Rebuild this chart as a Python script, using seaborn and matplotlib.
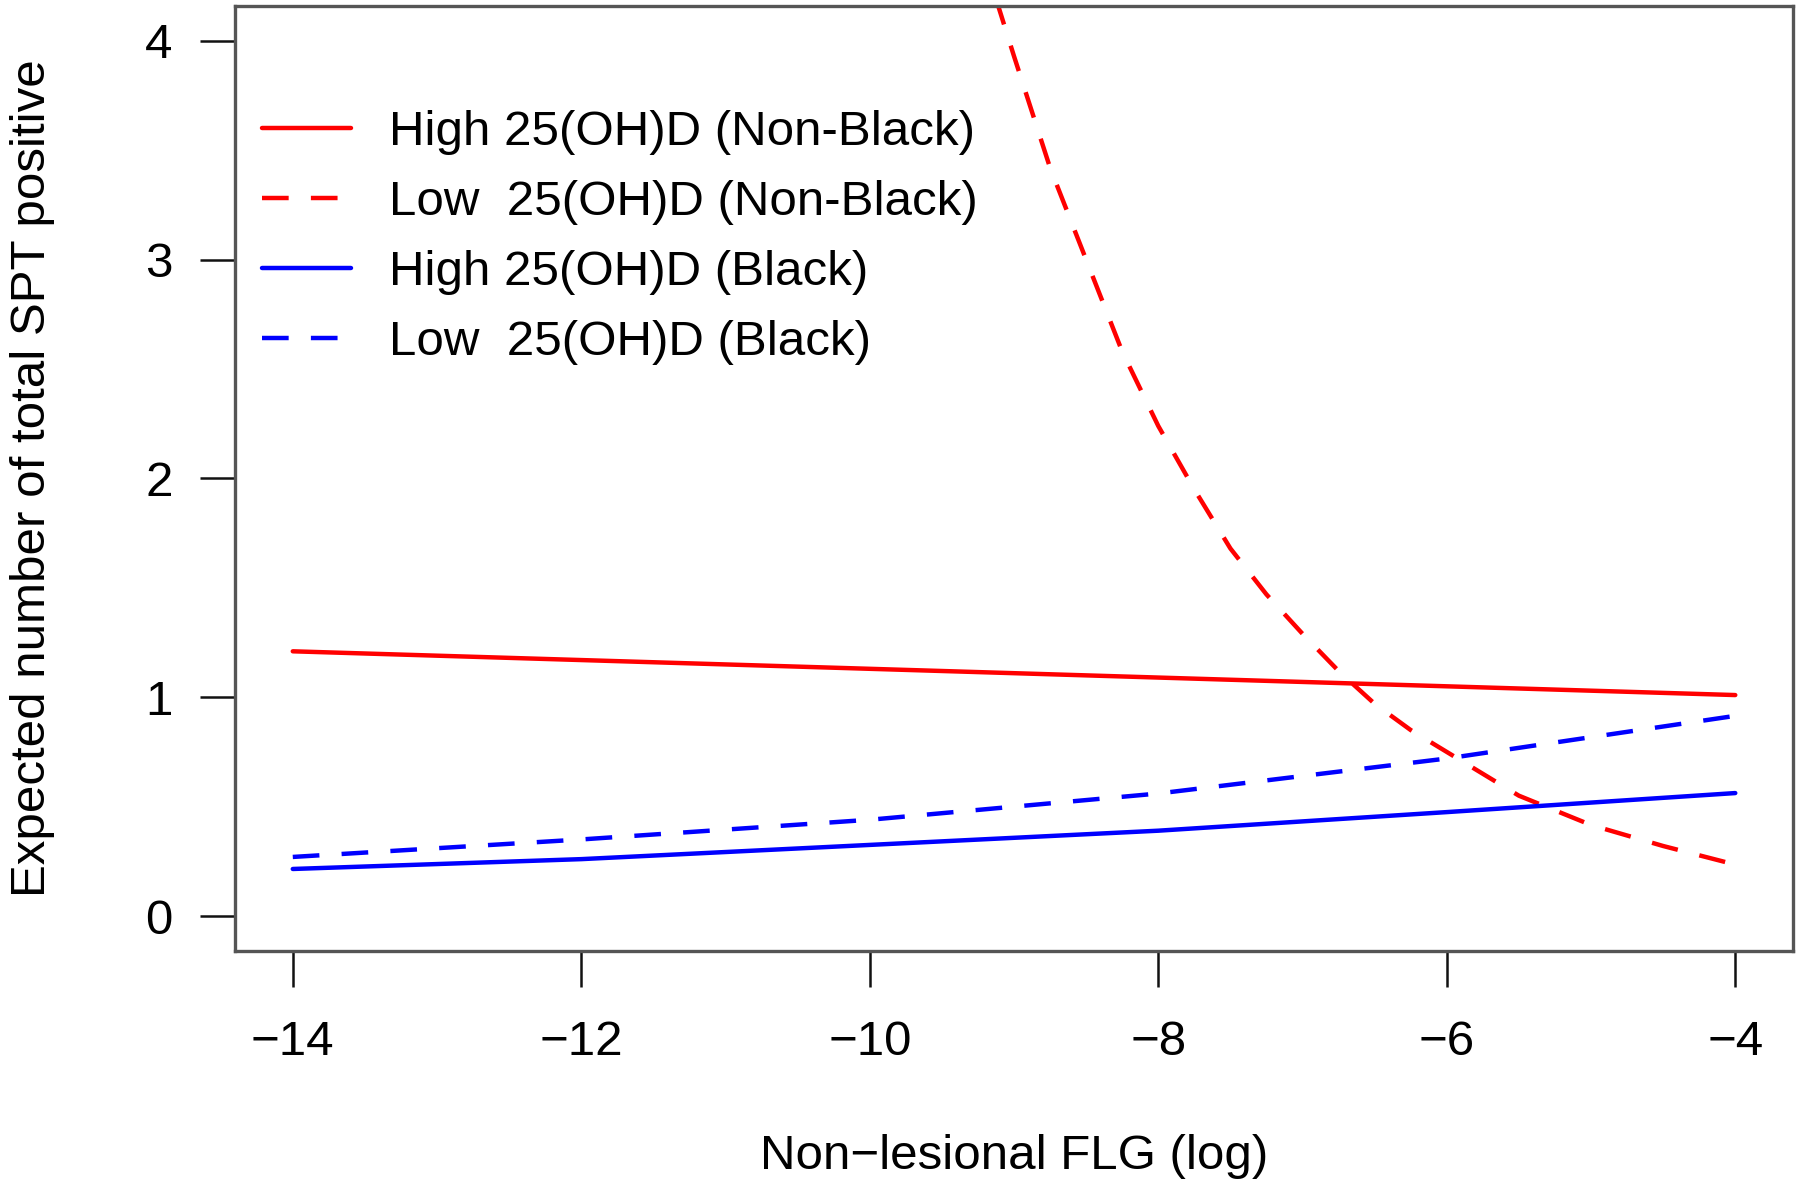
import numpy as np
import pandas as pd
import matplotlib
matplotlib.use("Agg")
import matplotlib.pyplot as plt
import seaborn as sns

# ---- data ----
series_names = [
    "High 25(OH)D (Non-Black)",
    "Low  25(OH)D (Non-Black)",
    "High 25(OH)D (Black)",
    "Low  25(OH)D (Black)",
]

x_high_nonblack = [-14, -12, -10, -8, -6, -4]
y_high_nonblack = [1.21, 1.17, 1.13, 1.09, 1.05, 1.01]

x_low_nonblack = [-9.4, -9.2, -9.0, -8.75, -8.5, -8.25, -8.0, -7.75, -7.5, -7.25,
                  -7.0, -6.75, -6.5, -6.25, -6.0, -5.5, -5.0, -4.5, -4.0]
y_low_nonblack = [4.80, 4.35, 3.93, 3.42, 3.00, 2.58, 2.24, 1.95, 1.68, 1.47,
                  1.29, 1.12, 0.97, 0.85, 0.75, 0.55, 0.416, 0.32, 0.235]

x_high_black = [-14, -12, -10, -8, -6, -4]
y_high_black = [0.215, 0.26, 0.325, 0.39, 0.475, 0.562]

x_low_black = [-14, -12, -10, -8, -6, -4]
y_low_black = [0.27, 0.35, 0.44, 0.56, 0.72, 0.915]

x_ticks = [-14, -12, -10, -8, -6, -4]
y_ticks = [0, 1, 2, 3, 4]

x_label = "Non\u2212lesional FLG (log)"
y_label = "Expected number of total SPT positive"

colors = {series_names[0]: "#FF0000", series_names[1]: "#FF0000",
          series_names[2]: "#0000FF", series_names[3]: "#0000FF"}
dash_styles = {series_names[0]: "", series_names[1]: (6, 5),
               series_names[2]: "", series_names[3]: (6, 5)}

frames = []
for name, xs, ys in [
    (series_names[0], x_high_nonblack, y_high_nonblack),
    (series_names[1], x_low_nonblack, y_low_nonblack),
    (series_names[2], x_high_black, y_high_black),
    (series_names[3], x_low_black, y_low_black),
]:
    frames.append(pd.DataFrame({"x": xs, "y": ys, "series": name}))
df = pd.concat(frames, ignore_index=True)

# ---- style ----
sns.set_style("ticks")
plt.rcParams["font.family"] = ["Liberation Sans", "DejaVu Sans"]
plt.rcParams["axes.unicode_minus"] = True
plt.rcParams["text.color"] = "black"
plt.rcParams["axes.labelcolor"] = "black"
plt.rcParams["xtick.color"] = "black"
plt.rcParams["ytick.color"] = "black"
FS = 35.5

fig = plt.figure(figsize=(18, 11.91), dpi=100)
ax = fig.add_axes([0.1306, 0.2015, 0.9961 - 0.1306, 0.995 - 0.2015])

sns.lineplot(data=df, x="x", y="y", hue="series", style="series",
             hue_order=series_names, style_order=series_names,
             palette=colors, dashes=dash_styles, linewidth=3.2,
             legend=False, ax=ax, estimator=None, sort=True)

ax.set_xlim(-14.4, -3.6)
ax.set_ylim(-0.16, 4.16)
ax.set_xticks(x_ticks)
ax.set_yticks(y_ticks)
ax.set_xticklabels([f"\u2212{abs(v)}" for v in x_ticks], fontsize=FS)
ax.set_yticklabels([str(v) for v in y_ticks], fontsize=FS)
ax.tick_params(axis="x", length=26, width=1.8, pad=24, color="#111111", labelcolor="black")
ax.tick_params(axis="y", length=25, width=1.8, pad=20, color="#111111", labelcolor="black")

for sp in ax.spines.values():
    sp.set_visible(True)
    sp.set_linewidth(2.4)
    sp.set_color("#555555")

ax.set_xlabel(x_label, fontsize=FS, labelpad=49, color="black")
ax.set_ylabel(y_label, fontsize=FS, labelpad=65, color="black")

handles = ax.get_lines()[:4]
leg = ax.legend(handles, series_names, loc="upper left",
                bbox_to_anchor=(0.0173, 0.890), frameon=False,
                fontsize=FS, handlelength=1.8, handletextpad=0.78,
                labelspacing=0.51, borderpad=0, borderaxespad=0)
for t in leg.get_texts():
    t.set_color("black")

fig.savefig("out.png", dpi=100)
